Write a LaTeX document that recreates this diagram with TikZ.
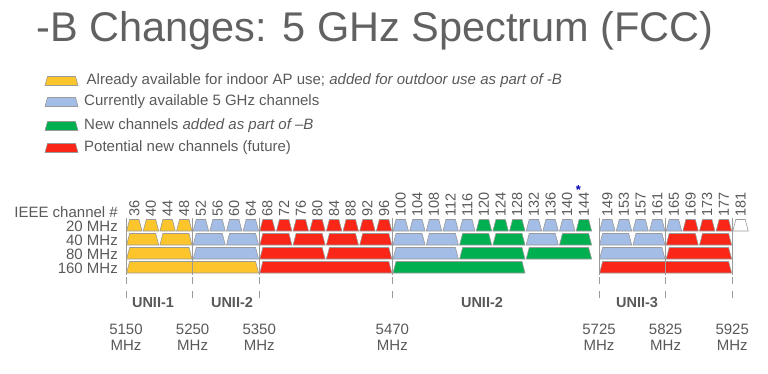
\documentclass[tikz,border=0pt]{standalone}
\usepackage{fontspec}
\setmainfont{Liberation Sans}
\definecolor{txtgray}{HTML}{595959}
\definecolor{slotline}{HTML}{9A9A9A}
\definecolor{chyel}{HTML}{FDC52C}
\definecolor{chblu}{HTML}{A3BDE6}
\definecolor{chgrn}{HTML}{00AF50}
\definecolor{chred}{HTML}{FA2617}
\tikzset{
  lbl/.style={text=txtgray, inner sep=0pt, font=\fontsize{15}{17}\selectfont},
  chnum/.style={lbl, rotate=90, anchor=west, font=\fontsize{14.5}{16}\selectfont},
  unii/.style={lbl, font=\fontsize{14.5}{16}\selectfont\bfseries},
  tick/.style={draw=slotline, line width=0.9pt},
}
\begin{document}
\begin{tikzpicture}[x=1pt, y=-1pt]
    \useasboundingbox (0,0) rectangle (768,373);
    % title
    \node[lbl, text=black!62, font=\fontsize{41.5}{45}\selectfont] (title) at (375,31) {-B Changes: 5 GHz Spectrum (FCC)};
    % legend
    \foreach \c/\y/\t [count=\i] in {
        chyel/81/{\,Already available for indoor AP use; \textit{added for outdoor use as part of -B}},
        chblu/102/{Currently available 5 GHz channels},
        chgrn/126/{New channels \textit{added as part of –B}},
        chred/148/{Potential new channels (future)}} {
        \filldraw[fill=\c, draw=slotline, line width=0.6pt]
            (45,\y+4.5) -- (47.5,\y-4.5) -- (75.5,\y-4.5) -- (78,\y+4.5) -- cycle;
        \node[lbl, anchor=west] (leg\i) at (84,\y) {\t};
    }
    % row labels
    \node[lbl, anchor=east] (ieee) at (118,212) {IEEE channel \#};
    \foreach \t [count=\r from 0] in {20,40,80,160}
        \node[lbl, anchor=east] (row\t) at (118,226+14*\r) {\t{} MHz};
    % channel slots: origin / first / count / width / row / colour
    \foreach \o/\k/\m/\w/\r/\c in {
        126/0/4/1/0/chyel, 126/4/4/1/0/chblu, 126/8/8/1/0/chred, 126/16/5/1/0/chblu,
        126/21/3/1/0/chgrn, 126/24/3/1/0/chblu, 126/27/1/1/0/chgrn,
        599/0/5/1/0/chblu, 599/5/3/1/0/chred, 599/8/1/1/0/white,
        126/0/2/2/1/chyel, 126/4/2/2/1/chblu, 126/8/4/2/1/chred, 126/16/2/2/1/chblu,
        126/20/2/2/1/chgrn, 126/24/1/2/1/chblu, 126/26/1/2/1/chgrn,
        599/0/2/2/1/chblu, 599/4/2/2/1/chred,
        126/0/1/4/2/chyel, 126/4/1/4/2/chblu, 126/8/2/4/2/chred, 126/16/1/4/2/chblu,
        126/20/2/4/2/chgrn, 599/0/1/4/2/chblu, 599/4/1/4/2/chred,
        126/0/1/8/3/chyel, 126/8/1/8/3/chred, 126/16/1/8/3/chgrn, 599/0/1/8/3/chred} {
        \foreach \i in {1,...,\m} {
            \pgfmathsetmacro{\xa}{\o+16.65*(\k+(\i-1)*\w)}
            \pgfmathsetmacro{\xb}{\xa+16.65*\w}
            \pgfmathsetmacro{\yt}{219.5+14*\r}
            \filldraw[fill=\c, draw=slotline, line width=0.6pt]
                (\xa+0.6,\yt+11.5) -- (\xa+3.6,\yt) -- (\xb-3.6,\yt) -- (\xb-0.6,\yt+11.5) -- cycle;
        }
    }
    % channel numbers
    \foreach \n [count=\i from 0] in {36,40,...,144}
        \node[chnum] (ch\n) at (126+16.65*\i+8.3,217) {\n};
    \foreach \n [count=\i from 0] in {149,153,...,181}
        \node[chnum] (ch\n) at (599+16.65*\i+8.3,217) {\n};
    \node[text=blue!70!black, inner sep=0pt, font=\fontsize{13}{13}\selectfont\bfseries] (star) at (578.5,190) {*};
    % band edges
    \foreach \x/\f in {126/5150, 192.6/5250, 259.2/5350, 392.4/5470, 599/5725, 665.6/5825, 732.2/5925} {
        \draw[tick] (\x,218) -- (\x,275);
        \draw[tick, dash pattern=on 7pt off 7pt] (\x,277) -- (\x,300);
        \node[lbl, align=center] (f\f) at (\x,337) {\f\\[-1pt]MHz};
    }
    \node[unii] (unii1) at (153,303) {UNII-1};
    \node[unii] (unii2a) at (232,303) {UNII-2};
    \node[unii] (unii2c) at (482,303) {UNII-2};
    \node[unii] (unii3) at (637,303) {UNII-3};
\end{tikzpicture}
\end{document}
